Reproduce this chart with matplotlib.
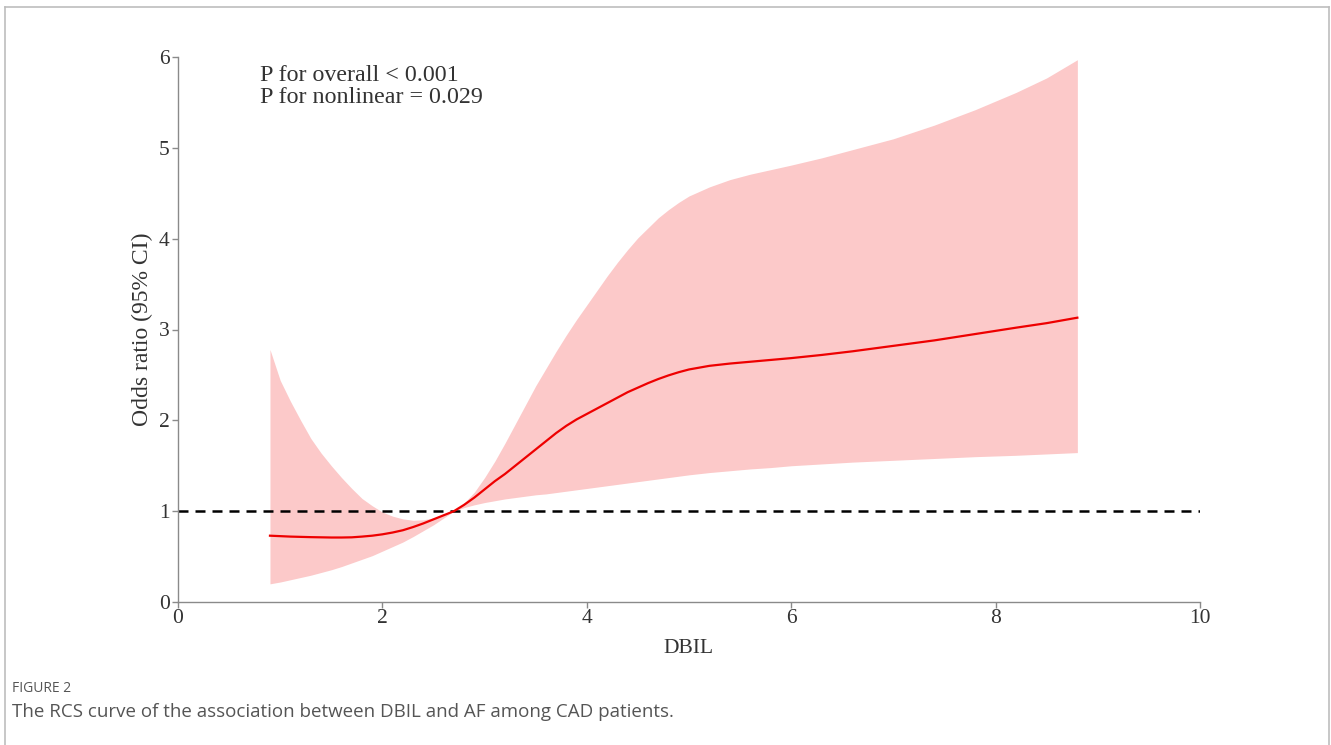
import matplotlib
matplotlib.use("Agg")
import matplotlib.pyplot as plt
from matplotlib.lines import Line2D

# ---- data ----
dbil = [0.9, 1.0, 1.1, 1.2, 1.3, 1.4, 1.5, 1.6, 1.7, 1.8, 1.9, 2.0, 2.1, 2.2, 2.3,
        2.4, 2.5, 2.6, 2.7, 2.8, 2.9, 3.0, 3.1, 3.2, 3.3, 3.4, 3.5, 3.6, 3.7, 3.8,
        3.9, 4.0, 4.1, 4.2, 4.3, 4.4, 4.5, 4.6, 4.7, 4.8, 4.9, 5.0, 5.2, 5.4, 5.6,
        5.8, 6.0, 6.3, 6.6, 7.0, 7.4, 7.8, 8.2, 8.5, 8.8]
odds_ratio = [0.73, 0.725, 0.72, 0.717, 0.714, 0.712, 0.71, 0.71, 0.712, 0.72, 0.73,
              0.745, 0.765, 0.79, 0.825, 0.865, 0.91, 0.955, 1.0, 1.07, 1.15, 1.24,
              1.33, 1.41, 1.50, 1.59, 1.68, 1.77, 1.86, 1.94, 2.01, 2.07, 2.13, 2.19,
              2.25, 2.31, 2.36, 2.41, 2.455, 2.495, 2.53, 2.56, 2.60, 2.625, 2.645,
              2.665, 2.685, 2.72, 2.76, 2.82, 2.88, 2.95, 3.02, 3.07, 3.13]
ci_upper = [2.78, 2.44, 2.21, 2.00, 1.80, 1.64, 1.50, 1.37, 1.25, 1.14, 1.06, 0.99,
            0.945, 0.915, 0.90, 0.905, 0.925, 0.955, 1.0, 1.09, 1.21, 1.37, 1.55,
            1.75, 1.96, 2.17, 2.38, 2.57, 2.76, 2.94, 3.11, 3.27, 3.43, 3.59, 3.74,
            3.88, 4.01, 4.12, 4.23, 4.32, 4.40, 4.47, 4.57, 4.65, 4.71, 4.76, 4.81,
            4.89, 4.98, 5.10, 5.25, 5.42, 5.61, 5.77, 5.97]
ci_lower = [0.20, 0.22, 0.245, 0.27, 0.295, 0.325, 0.355, 0.39, 0.43, 0.47, 0.51,
            0.56, 0.61, 0.66, 0.72, 0.785, 0.85, 0.925, 1.0, 1.04, 1.07, 1.095, 1.115,
            1.135, 1.15, 1.165, 1.18, 1.19, 1.205, 1.22, 1.235, 1.25, 1.265, 1.28,
            1.295, 1.31, 1.325, 1.34, 1.355, 1.37, 1.385, 1.40, 1.425, 1.445, 1.465,
            1.48, 1.50, 1.52, 1.54, 1.56, 1.58, 1.60, 1.615, 1.63, 1.645]
x_ticks = [0, 2, 4, 6, 8, 10]
y_ticks = [0, 1, 2, 3, 4, 5, 6]
reference_or = 1
annot_lines = ["P for overall < 0.001", "P for nonlinear = 0.029"]

W, H = 1331, 745
fig = plt.figure(figsize=(W / 100, H / 100), dpi=100)
ax = fig.add_axes([178 / W, (H - 602) / H, (1200 - 178) / W, (602 - 57) / H])

serif = ["Liberation Serif", "DejaVu Serif"]

ax.fill_between(dbil, ci_lower, ci_upper, color="#fcc9c9", linewidth=0, zorder=1)
ax.plot(dbil, odds_ratio, color="#ee0000", lw=1.6, zorder=3, solid_joinstyle="round")
ax.axhline(reference_or, color="black", lw=1.8, linestyle=(0, (4, 2.8)), zorder=2)

ax.set_xlim(0, 10)
ax.set_ylim(0, 6)
ax.set_xticks(x_ticks)
ax.set_yticks(y_ticks)
for s in ["top", "right"]:
    ax.spines[s].set_visible(False)
for s in ["left", "bottom"]:
    ax.spines[s].set_color("#8a8a8a")
    ax.spines[s].set_linewidth(1.0)
ax.tick_params(axis="both", colors="#8a8a8a", length=4, width=1.0,
               labelcolor="#333333", labelsize=15.5)
for lab in ax.get_xticklabels() + ax.get_yticklabels():
    lab.set_family(serif)
ax.tick_params(axis="x", pad=1)
ax.tick_params(axis="y", pad=2)

ax.set_xlabel("DBIL", fontsize=15.5, family=serif, color="#333333", labelpad=8)
ax.set_ylabel("Odds ratio (95% CI)", fontsize=17, family=serif, color="#333333", labelpad=4)

ax.text(0.80, 5.80, annot_lines[0], fontsize=17.3, family=serif, color="#333333",
        ha="left", va="center")
ax.text(0.80, 5.55, annot_lines[1], fontsize=17.3, family=serif, color="#333333",
        ha="left", va="center")

# caption
fig.text(12 / W, 1 - 688 / H, "FIGURE 2", fontsize=10, family=["Open Sans", "DejaVu Sans"],
         color="#555555", ha="left", va="center")
fig.text(12 / W, 1 - 712 / H, "The RCS curve of the association between DBIL and AF among CAD patients.",
         fontsize=13.5, family=["Open Sans", "DejaVu Sans"], color="#555555",
         ha="left", va="center")

# frame around figure (open at bottom)
bc = "#bdbdbd"
fig.add_artist(Line2D([5 / W, 5 / W], [0, 1 - 7 / H], color=bc, lw=1.2, transform=fig.transFigure))
fig.add_artist(Line2D([5 / W, 1329 / W], [1 - 7 / H, 1 - 7 / H], color=bc, lw=1.2, transform=fig.transFigure))
fig.add_artist(Line2D([1329 / W, 1329 / W], [0, 1 - 7 / H], color=bc, lw=1.2, transform=fig.transFigure))

fig.savefig("out.png", dpi=100)
